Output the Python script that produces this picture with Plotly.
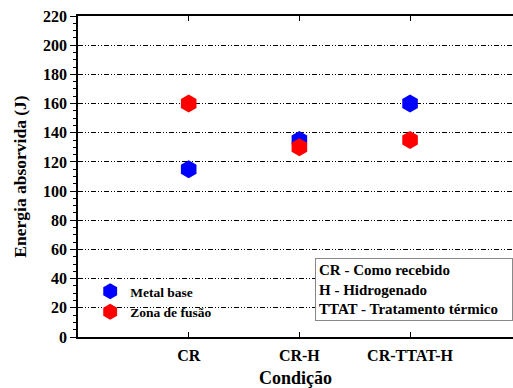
import plotly.graph_objects as go

categories = ["CR", "CR-H", "CR-TTAT-H"]
metal_base = [115, 135, 160]
zona_fusao = [160, 130, 135]
y_ticks = [0, 20, 40, 60, 80, 100, 120, 140, 160, 180, 200, 220]
note_lines = ["CR - Como recebido", "H - Hidrogenado", "TTAT - Tratamento térmico"]

FONT = "Liberation Serif"

fig = go.Figure()
fig.add_trace(go.Scatter(
    x=categories, y=metal_base, mode="markers", name="Metal base",
    marker=dict(symbol="hexagon", size=18, color="#0000ff", line=dict(width=0)),
))
fig.add_trace(go.Scatter(
    x=categories, y=zona_fusao, mode="markers", name="Zona de fusão",
    marker=dict(symbol="hexagon", size=18, color="#ff0000", line=dict(width=0)),
))

fig.update_layout(
    width=513, height=388,
    margin=dict(l=78, r=0, t=16, b=51, autoexpand=False),
    paper_bgcolor="white", plot_bgcolor="white",
    font=dict(family=FONT, color="black", size=14),
    showlegend=True,
    legend=dict(
        x=0.028, y=0.19, xanchor="left", yanchor="top",
        bgcolor="rgba(0,0,0,0)", borderwidth=0,
        font=dict(family=FONT, size=13.5, color="black", weight="bold"),
        itemsizing="trace", tracegroupgap=0,
    ),
    xaxis=dict(
        type="category", range=[-1, 2.93], automargin=False,
        showgrid=False, zeroline=False,
        showline=True, linecolor="black", linewidth=1.5, mirror="allticks",
        ticks="inside", ticklen=5, tickcolor="black",
        ticklabelstandoff=3,
        tickfont=dict(family=FONT, size=16, weight="bold"),
        title=dict(text="Condição", font=dict(family=FONT, size=18, weight="bold"), standoff=10),
    ),
    yaxis=dict(
        range=[0, 220], tickvals=y_ticks, automargin=False,
        showgrid=True, gridcolor="black", gridwidth=1,
        griddash="5px,2px,1px,2px,1px,2px",
        zeroline=False,
        showline=True, linecolor="black", linewidth=1.5,
        ticks="outside", ticklen=6, tickcolor="black",
        minor=dict(dtick=5, ticks="outside", ticklen=3, tickcolor="black", showgrid=False),
        tickfont=dict(family=FONT, size=16, weight="bold"),
        title=dict(text="Energia absorvida (J)", font=dict(family=FONT, size=17.5, weight="bold"), standoff=12),
    ),
)

fig.add_annotation(
    xref="paper", yref="paper", x=0.545, y=0.246, xanchor="left", yanchor="top",
    text="<br>".join(note_lines), align="left", showarrow=False,
    font=dict(family=FONT, size=15, color="black", weight="bold"),
    bordercolor="#888888", borderwidth=1, borderpad=3, bgcolor="white",
    width=190,
)

fig.write_html("out.html", config={"displayModeBar": False},
               post_script="document.body.style.margin='0';")
